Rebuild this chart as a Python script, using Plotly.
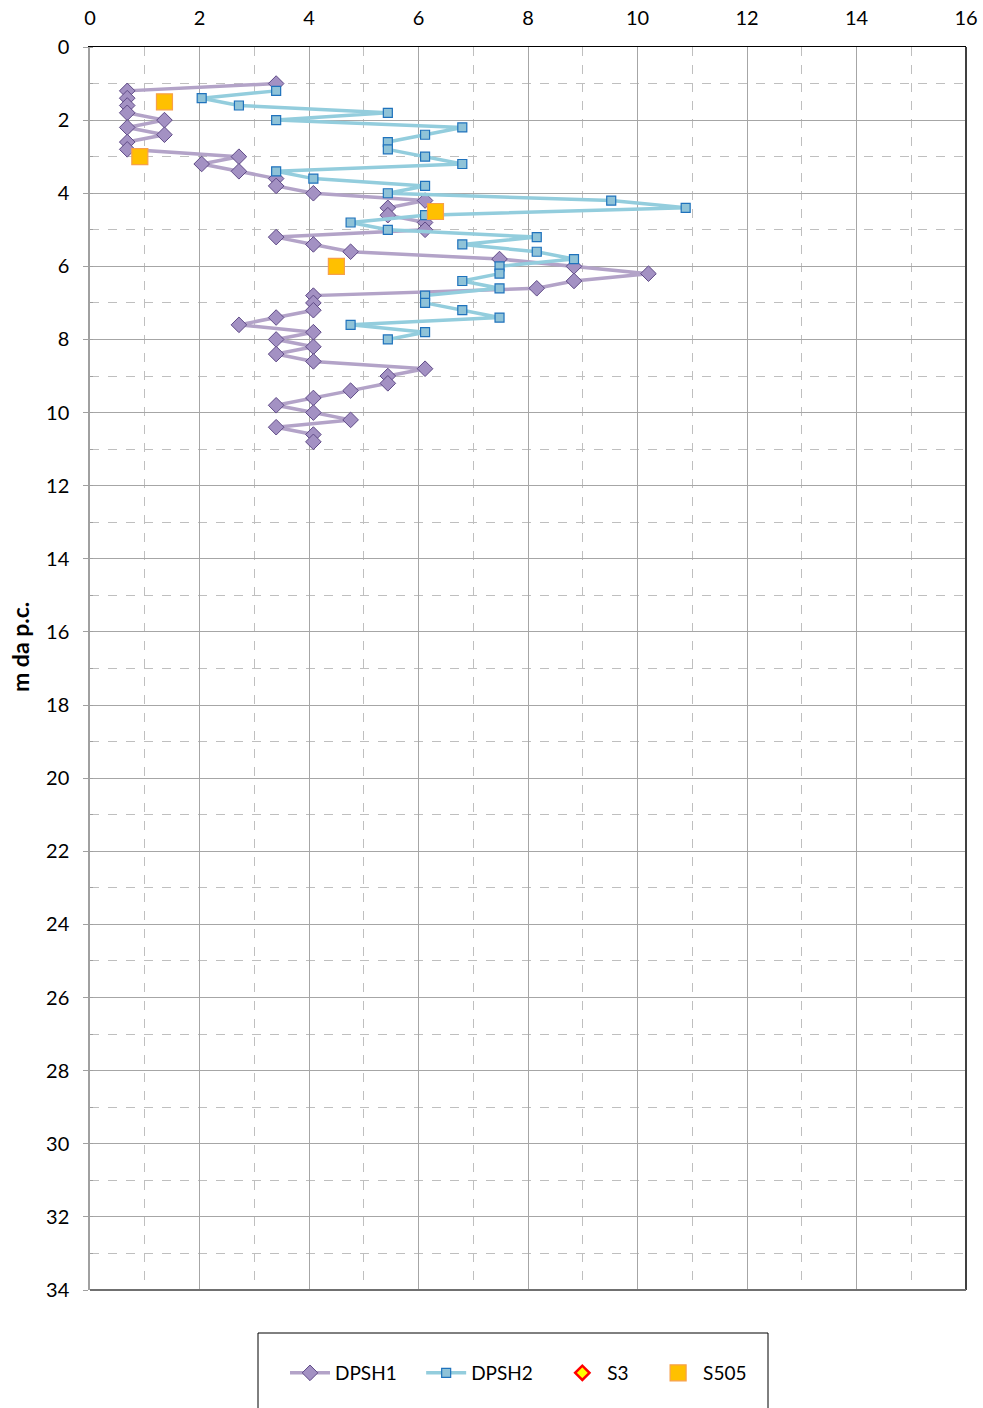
import plotly.graph_objects as go

# DPSH1 penetrometer profile: depth (m) and resistance value
dpsh1_depth = [1.0, 1.2, 1.4, 1.6, 1.8, 2.0, 2.2, 2.4, 2.6, 2.8, 3.0, 3.2, 3.4, 3.6, 3.8,
               4.0, 4.2, 4.4, 4.6, 4.8, 5.0, 5.2, 5.4, 5.6, 5.8, 6.0, 6.2, 6.4, 6.6, 6.8,
               7.0, 7.2, 7.4, 7.6, 7.8, 8.0, 8.2, 8.4, 8.6, 8.8, 9.0, 9.2, 9.4, 9.6, 9.8,
               10.0, 10.2, 10.4, 10.6, 10.8]
dpsh1_value = [3.40, 0.68, 0.68, 0.68, 0.68, 1.36, 0.68, 1.36, 0.68, 0.68, 2.72, 2.04, 2.72, 3.40, 3.40,
               4.08, 6.12, 5.44, 5.44, 6.12, 6.12, 3.40, 4.08, 4.76, 7.48, 8.84, 10.20, 8.84, 8.16, 4.08,
               4.08, 4.08, 3.40, 2.72, 4.08, 3.40, 4.08, 3.40, 4.08, 6.12, 5.44, 5.44, 4.76, 4.08, 3.40,
               4.08, 4.76, 3.40, 4.08, 4.08]

# DPSH2 penetrometer profile
dpsh2_depth = [1.2, 1.4, 1.6, 1.8, 2.0, 2.2, 2.4, 2.6, 2.8, 3.0, 3.2, 3.4, 3.6, 3.8,
               4.0, 4.2, 4.4, 4.6, 4.8, 5.0, 5.2, 5.4, 5.6, 5.8, 6.0, 6.2, 6.4, 6.6, 6.8,
               7.0, 7.2, 7.4, 7.6, 7.8, 8.0]
dpsh2_value = [3.40, 2.04, 2.72, 5.44, 3.40, 6.80, 6.12, 5.44, 5.44, 6.12, 6.80, 3.40, 4.08, 6.12,
               5.44, 9.52, 10.88, 6.12, 4.76, 5.44, 8.16, 6.80, 8.16, 8.84, 7.48, 7.48, 6.80, 7.48, 6.12,
               6.12, 6.80, 7.48, 4.76, 6.12, 5.44]

# Borehole tests
s3_depth = []
s3_value = []
s505_depth = [1.5, 3.0, 4.5, 6.0]
s505_value = [1.36, 0.91, 6.31, 4.50]

x_ticks = [0, 2, 4, 6, 8, 10, 12, 14, 16]
y_ticks = [0, 2, 4, 6, 8, 10, 12, 14, 16, 18, 20, 22, 24, 26, 28, 30, 32, 34]

FONT = "Lato, 'Open Sans', sans-serif"
PAD = "\u00a0" * 4  # extra spacing between legend entries

fig = go.Figure()

fig.add_trace(go.Scatter(
    x=dpsh1_value, y=dpsh1_depth, name="DPSH1" + PAD, mode="lines+markers",
    line=dict(color="#B3A3C8", width=3.5),
    marker=dict(symbol="diamond", size=12, color="#A391C3",
                line=dict(color="#5F4A87", width=1)),
))
fig.add_trace(go.Scatter(
    x=dpsh2_value, y=dpsh2_depth, name="DPSH2" + PAD, mode="lines+markers",
    line=dict(color="#93CDDD", width=3.5),
    marker=dict(symbol="square", size=9, color="#8FC3D8",
                line=dict(color="#1F72BC", width=1.2)),
))
fig.add_trace(go.Scatter(
    x=s3_value if s3_value else [None], y=s3_depth if s3_depth else [None],
    name="S3" + PAD, mode="markers",
    marker=dict(symbol="diamond", size=11, color="#FFFF00",
                line=dict(color="#FF0000", width=2.5)),
))
fig.add_trace(go.Scatter(
    x=s505_value, y=s505_depth, name="S505", mode="markers",
    marker=dict(symbol="square", size=16, color="#FFC000",
                line=dict(color="#F7A04A", width=1.2)),
))

# Frame: right and bottom borders of the plot area
fig.add_shape(type="line", xref="paper", yref="paper", x0=1, x1=1, y0=0, y1=1,
              line=dict(color="#404040", width=2))
fig.add_shape(type="line", xref="paper", yref="paper", x0=0, x1=1, y0=0, y1=0,
              line=dict(color="#707070", width=2))
# Legend box
fig.add_shape(type="rect", xref="paper", yref="paper",
              x0=(258 - 90) / 876, x1=(768 - 90) / 876,
              y0=(1290 - 1333) / 1243, y1=(1290 - 1420) / 1243,
              line=dict(color="#000000", width=1), fillcolor="rgba(0,0,0,0)")

fig.add_annotation(
    text="<b>m da p.c.</b>", xref="paper", yref="paper",
    x=(20 - 90) / 876, y=(1290 - 647) / 1243, textangle=-90,
    xanchor="center", yanchor="middle",
    showarrow=False, font=dict(family=FONT, size=23, color="#000000"),
)

fig.update_xaxes(
    side="top", range=[0, 16], tickvals=x_ticks, ticktext=[str(v) for v in x_ticks],
    automargin=False,
    showgrid=True, gridcolor="#A6A6A6", gridwidth=1.3,
    showline=True, linecolor="#000000", linewidth=1,
    ticks="", ticklabelstandoff=13,
    tickfont=dict(family=FONT, size=20, color="#000000"),
    zeroline=False,
    minor=dict(dtick=1, showgrid=True, gridcolor="#BFBFBF", griddash="dash", gridwidth=1),
)
fig.update_yaxes(
    autorange=False, range=[34, 0], tickvals=y_ticks, ticktext=[str(v) for v in y_ticks],
    automargin=False,
    showgrid=True, gridcolor="#A6A6A6", gridwidth=1.3,
    showline=True, linecolor="#A0A0A0", linewidth=1.5,
    ticks="outside", ticklen=5, tickcolor="#A0A0A0", tickwidth=1.3,
    ticklabelstandoff=10,
    tickfont=dict(family=FONT, size=20, color="#000000"),
    zeroline=False,
    minor=dict(dtick=1, tick0=0, showgrid=True, gridcolor="#BFBFBF", griddash="dash", gridwidth=1,
               ticks="inside", ticklen=3, tickcolor="#A0A0A0"),
)

fig.update_layout(
    width=983, height=1408,
    margin=dict(l=90, r=17, t=47, b=118, autoexpand=False),
    paper_bgcolor="#FFFFFF", plot_bgcolor="#FFFFFF",
    font=dict(family=FONT, size=19, color="#000000"),
    showlegend=True,
    legend=dict(
        orientation="h", x=(285 - 90) / 876, xanchor="left",
        y=(1290 - 1373) / 1243, yanchor="middle",
        font=dict(family=FONT, size=19, color="#000000"),
        bgcolor="rgba(0,0,0,0)", itemwidth=40,
    ),
)

fig.write_html("out.html")
